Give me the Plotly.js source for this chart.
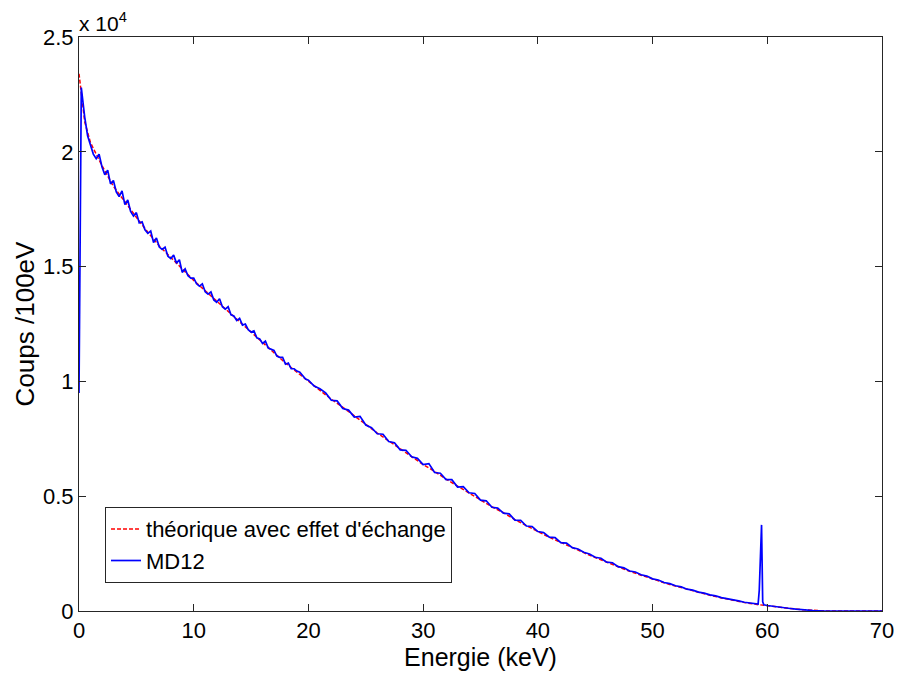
<!DOCTYPE html>
<html>
<head>
<meta charset="utf-8">
<script src="https://cdn.plot.ly/plotly-3.0.1.min.js"></script>
<style>html,body{margin:0;padding:0;background:#fff;}#chart{width:905px;height:673px;}</style>
</head>
<body>
<div id="chart"></div>
<script>
// Theoretical curve (with exchange effect), counts per 100 eV
const theoryE = [0,0.5,1,2,3,4,5,6,7,8,9,10,11,12,13,14,15,16,17,18,19,20,21,22,23,24,25,26,27,28,29,30,31,32,33,34,35,36,37,38,39,40,41,42,43,44,45,46,47,48,49,50,51,52,53,54,55,56,57,58,59,60,61,62,63,64,65,66,67,68,69,70];
const theoryY = [23400,21300,20400,19400,18500,17800,17150,16500,15900,15400,14900,14400,13950,13500,13050,12600,12150,11700,11250,10800,10400,10000,9600,9220,8870,8480,8130,7750,7400,7060,6720,6380,6080,5740,5440,5140,4840,4540,4280,3980,3720,3460,3210,2990,2750,2540,2330,2120,1920,1730,1560,1390,1230,1085,945,815,690,570,460,370,290,220,160,110,60,25,5,0,0,0,0,0];

// Measured spectrum MD12, counts per 100 eV
const md12E = [0,0.1,0.2,0.5,0.75,1,1.25,1.5,1.75,2,2.25,2.5,2.75,3,3.25,3.5,3.75,4,4.25,4.5,4.75,5,5.25,5.5,5.75,6,6.25,6.5,6.75,7,7.25,7.5,7.75,8,8.25,8.5,8.75,9,9.25,9.5,9.75,10,10.25,10.5,10.75,11,11.25,11.5,11.75,12,12.25,12.5,12.75,13,13.25,13.5,13.75,14,14.25,14.5,14.75,15,15.25,15.5,15.75,16,16.25,16.5,16.75,17,17.25,17.5,17.75,18,18.25,18.5,18.75,19,19.25,19.5,19.75,20,20.5,21,21.5,22,22.5,23,23.5,24,24.5,25,25.5,26,26.5,27,27.5,28,28.5,29,29.5,30,30.5,31,31.5,32,32.5,33,33.5,34,34.5,35,35.5,36,36.5,37,37.5,38,38.5,39,39.5,40,40.5,41,41.5,42,42.5,43,43.5,44,44.5,45,45.5,46,46.5,47,47.5,48,48.5,49,49.5,50,50.5,51,51.5,52,52.5,53,53.5,54,54.5,55,55.5,56,56.5,57,57.5,58,58.5,59,59.2,59.3,59.4,59.5,59.6,59.7,60,60.5,61,61.5,62,62.5,63,63.5,64,64.5,65,70];
const md12Y = [9500,16400,22800,21500,20700,20300,19900,19700,19900,19350,19000,19200,18600,18750,18250,18050,18300,17700,17900,17400,17200,17350,16900,16950,16600,16450,16550,16050,16250,15850,15750,15850,15450,15350,15500,15150,15300,14750,14900,14600,14500,14500,14250,14150,14250,13900,13800,13900,13550,13450,13600,13250,13150,13250,12900,12850,12650,12750,12450,12500,12250,12150,12200,11900,11850,11650,11750,11450,11400,11350,11100,11050,11050,10750,10800,10550,10550,10450,10400,10250,10100,10050,9800,9680,9500,9180,9150,8820,8750,8450,8480,8100,7980,7720,7700,7380,7330,7020,7000,6720,6650,6380,6420,6030,6000,5720,5720,5400,5420,5150,5120,4830,4800,4520,4480,4260,4230,3960,3950,3700,3680,3460,3420,3220,3200,2980,2960,2760,2700,2560,2480,2340,2300,2130,2100,1930,1880,1740,1700,1580,1520,1400,1350,1240,1190,1100,1050,950,910,820,780,700,660,580,540,470,440,380,350,310,300,900,2300,3750,400,270,240,200,160,140,110,80,50,30,20,10,0,0];

const yTickVals = [0,5000,10000,15000,20000,25000];
const yTickText = ['0','0.5','1','1.5','2','2.5'];
const xTickVals = [0,10,20,30,40,50,60,70];

const FONT = 'Liberation Sans, Arial, Helvetica, sans-serif';

const traces = [
  {x: theoryE, y: theoryY, type: 'scatter', mode: 'lines', name: "théorique avec effet d'échange",
   line: {color: '#ff0000', width: 1.5, dash: '4px,2px'}},
  {x: md12E, y: md12Y, type: 'scatter', mode: 'lines', name: 'MD12',
   line: {color: '#0000ff', width: 1.7}}
];

const axisCommon = {
  showline: true, linecolor: '#262626', linewidth: 1, mirror: 'ticks',
  ticks: 'inside', ticklen: 7, tickcolor: '#262626', tickwidth: 1,
  showgrid: false, zeroline: false,
  tickfont: {family: FONT, size: 22, color: '#000'}
};

const layout = {
  width: 905, height: 673,
  paper_bgcolor: '#ffffff', plot_bgcolor: '#ffffff',
  margin: {l: 79, r: 23, t: 37, b: 62},
  showlegend: true,
  font: {family: FONT, color: '#000'},
  xaxis: Object.assign({}, axisCommon, {
    range: [0, 70], tickvals: xTickVals, ticktext: xTickVals.map(String),
    ticklabelstandoff: 0,
    title: {text: 'Energie (keV)', font: {family: FONT, size: 25, color: '#000'}, standoff: 0}
  }),
  yaxis: Object.assign({}, axisCommon, {
    range: [0, 25000], tickvals: yTickVals, ticktext: yTickText,
    ticklabelstandoff: 0,
    title: {text: 'Coups /100eV', font: {family: FONT, size: 26, color: '#000'}, standoff: 0}
  }),
  legend: {
    x: 0.0324, y: 0.181, xanchor: 'left', yanchor: 'top',
    bgcolor: '#ffffff', bordercolor: '#262626', borderwidth: 1,
    font: {family: FONT, size: 22, color: '#000'},
    itemwidth: 30, tracegroupgap: 0
  },
  annotations: [{
    xref: 'paper', yref: 'paper', x: 0, y: 1, xanchor: 'left', yanchor: 'bottom',
    text: 'x 10<sup>4</sup>', showarrow: false, xshift: -2, yshift: 0,
    font: {family: FONT, size: 21, color: '#000'}
  }]
};

Plotly.newPlot('chart', traces, layout, {displayModeBar: false, staticPlot: true});
</script>
</body>
</html>
